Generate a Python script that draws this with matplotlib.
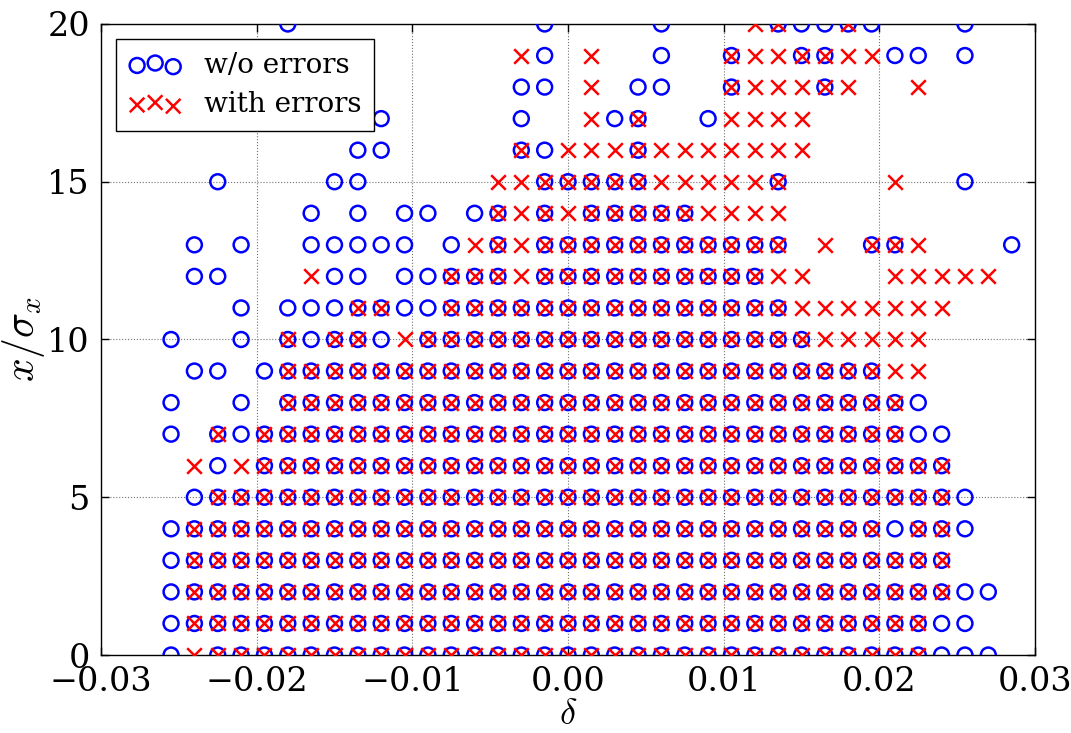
import matplotlib
matplotlib.use("Agg")
import matplotlib.pyplot as plt

# Column positions of the scan in delta
delta_values = [-0.0255, -0.0240, -0.0225, -0.0210, -0.0195, -0.0180, -0.0165,
                -0.0150, -0.0135, -0.0120, -0.0105, -0.0090, -0.0075, -0.0060,
                -0.0045, -0.0030, -0.0015, 0.0000, 0.0015, 0.0030, 0.0045,
                0.0060, 0.0075, 0.0090, 0.0105, 0.0120, 0.0135, 0.0150,
                0.0165, 0.0180, 0.0195, 0.0210, 0.0225, 0.0240, 0.0255,
                0.0270, 0.0285]


def span(a, b):
    """inclusive run of observed column indices"""
    return list(range(a, b + 1))


# Surviving columns per amplitude row x/sigma_x, without errors (blue circles)
no_err_cols = {
    20: [5, 16, 21, 26, 27, 28, 29, 30, 34],
    19: [16, 21, 24, 27, 28, 31, 32, 34],
    18: [15, 16, 20, 21, 24, 28],
    17: [9, 15, 19, 20, 23],
    16: [8, 9, 15, 16, 20],
    15: [2, 7, 8, 16, 17, 18, 19, 20, 26, 34],
    14: [6, 8, 10, 11, 13, 14, 16, 18, 19, 20, 21, 22],
    13: [1, 3, 6, 7, 8, 9, 10, 12, 14] + span(16, 26) + [30, 31, 36],
    12: [1, 2, 7, 8, 10, 11, 12, 13, 14] + span(16, 25),
    11: [3, 5, 6, 7, 8, 9, 10, 11] + span(12, 26),
    10: [0, 3, 5, 6, 7, 8, 9] + span(11, 27),
    9: [1, 2, 4] + span(5, 30),
    8: [0, 3] + span(5, 32),
    7: [0] + span(2, 33),
    6: [2] + span(4, 33),
    5: span(1, 34),
    4: span(0, 34),
    3: span(0, 33),
    2: span(0, 35),
    1: span(0, 34),
    0: [0] + span(2, 35),
}

# Surviving columns per row, with errors (red crosses)
err_cols = {
    20: [25, 26, 29],
    19: [15, 18, 24, 25, 26, 27, 28, 29, 30],
    18: [18, 24, 25, 26, 27, 28, 29, 32],
    17: [18, 20, 24, 25, 26, 27],
    16: [15] + span(17, 27),
    15: span(14, 26) + [31],
    14: span(14, 26),
    13: span(13, 26) + [28, 30, 31, 32],
    12: [6] + span(12, 27) + span(31, 35),
    11: [8, 9] + span(12, 33),
    10: [5, 7, 8] + span(10, 32),
    9: span(5, 32),
    8: span(5, 31),
    7: [2] + span(4, 31),
    6: [1] + span(3, 33),
    5: span(2, 33),
    4: span(1, 30) + [32, 33],
    3: span(1, 33),
    2: span(1, 33),
    1: span(1, 32),
    0: span(1, 32),
}

x_ticks = [-0.03, -0.02, -0.01, 0.00, 0.01, 0.02, 0.03]
y_ticks = [0, 5, 10, 15, 20]


def points(cols):
    xs, ys = [], []
    for row, idx in cols.items():
        for i in idx:
            xs.append(delta_values[i])
            ys.append(row)
    return xs, ys


plt.rcParams['font.family'] = ['DejaVu Serif']
plt.rcParams['mathtext.fontset'] = 'cm'
plt.rcParams['xtick.direction'] = 'in'
plt.rcParams['ytick.direction'] = 'in'

fig = plt.figure(figsize=(10.71, 7.33), dpi=100)
ax = fig.add_axes([0.0943, 0.1064, 0.8721, 0.8609])

x0, y0 = points(no_err_cols)
x1, y1 = points(err_cols)
ax.scatter(x0, y0, s=115, facecolors='none', edgecolors='b', linewidths=1.8,
           label='w/o errors', zorder=3)
ax.scatter(x1, y1, s=110, marker='x', c='r', linewidths=1.8,
           label='with errors', zorder=4)

ax.set_xlim(-0.03, 0.03)
ax.set_ylim(0, 20)
ax.set_xticks(x_ticks)
ax.set_yticks(y_ticks)
ax.tick_params(axis='both', which='major', labelsize=24, length=6, width=1,
               top=True, right=True)
ax.tick_params(axis='x', pad=8)
ax.tick_params(axis='y', pad=8)
ax.grid(True, color='0.45', linestyle=':', linewidth=0.8)
ax.set_axisbelow(True)
for sp in ax.spines.values():
    sp.set_linewidth(1.0)

ax.set_xlabel(r'$\delta$', fontsize=26, labelpad=-1)
ax.set_ylabel(r'$x/\sigma_x$', fontsize=30, labelpad=0)

leg = ax.legend(loc='upper left', scatterpoints=3,
                scatteryoffsets=[0.375, 0.5, 0.3125], fontsize=20,
                fancybox=False, framealpha=1, edgecolor='black',
                borderpad=0.45, labelspacing=0.45, handlelength=1.9,
                handletextpad=0.8, borderaxespad=0.55)
leg.get_frame().set_linewidth(1.0)
leg.set_zorder(10)

fig.savefig('out.png', dpi=100)
